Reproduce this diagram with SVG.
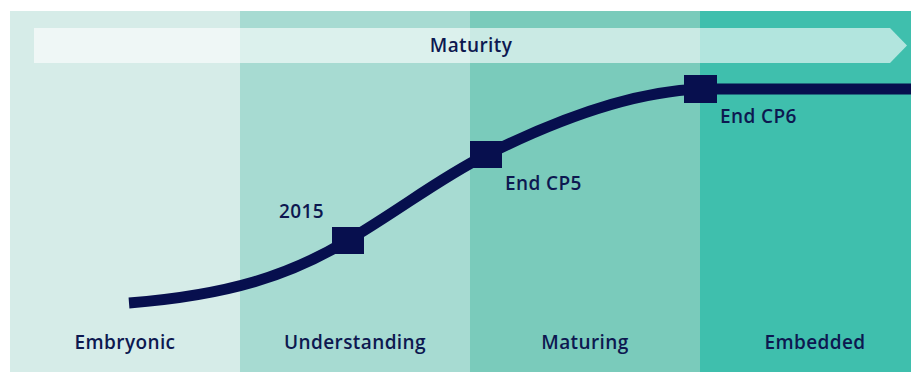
<svg xmlns="http://www.w3.org/2000/svg" width="911" height="372" viewBox="0 0 911 372">
<style>
.lbl{font-family:"Open Sans","Noto Sans","Liberation Sans",sans-serif;font-size:19px;font-weight:600;letter-spacing:0.4px;fill:#0d1850;}
.mid{text-anchor:middle;}
.mk{fill:#070f4e;}
</style>
<rect width="911" height="372" fill="#ffffff"/>
<g id="stage-embryonic"><rect x="10" y="11" width="230" height="361" fill="#d6ece8"/><text class="lbl mid" x="125" y="349">Embryonic</text></g>
<g id="stage-understanding"><rect x="240" y="11" width="230" height="361" fill="#a7dbd2"/><text class="lbl mid" x="355" y="349">Understanding</text></g>
<g id="stage-maturing"><rect x="470" y="11" width="230" height="361" fill="#7acbbb"/><text class="lbl mid" x="585" y="349">Maturing</text></g>
<g id="stage-embedded"><rect x="700" y="11" width="211" height="361" fill="#3fbfad"/><text class="lbl mid" x="815" y="349">Embedded</text></g>
<g id="maturity-arrow"><polygon points="34,28 890,28 907,45.5 890,63 34,63" fill="#ffffff" fill-opacity="0.6"/><text class="lbl mid" x="471" y="52">Maturity</text></g>
<g id="connectors"><path d="M129,303 C230,295 290,275 347,241 S440,178 486,155 S620,92 700,89 L911,89" fill="none" stroke="#070f4e" stroke-width="11"/></g>
<g id="m2015"><rect class="mk" x="332" y="227" width="32" height="27"/><text class="lbl" x="279" y="218">2015</text></g>
<g id="mcp5"><rect class="mk" x="470" y="141" width="32" height="27"/><text class="lbl" x="505" y="190">End CP5</text></g>
<g id="mcp6"><rect class="mk" x="684" y="75" width="33" height="28"/><text class="lbl" x="720" y="123">End CP6</text></g>
</svg>
